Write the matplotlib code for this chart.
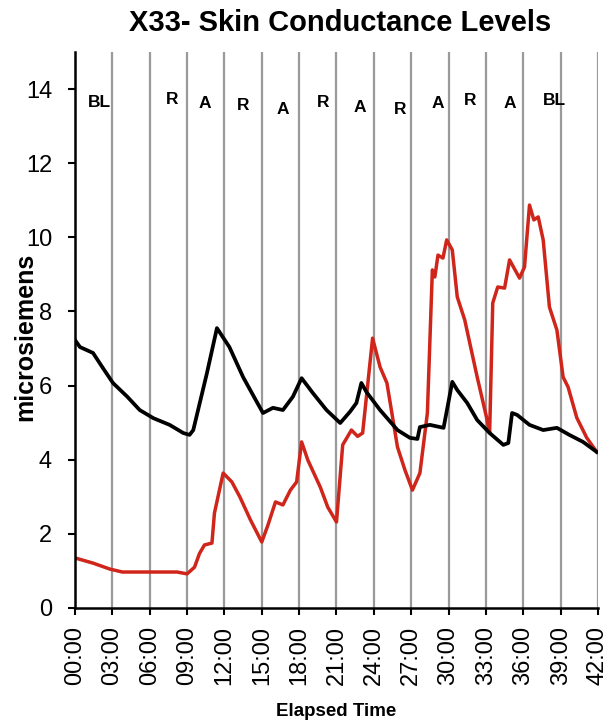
import matplotlib
matplotlib.use("Agg")
import matplotlib.pyplot as plt

plt.rcParams['font.family'] = ['Liberation Sans', 'DejaVu Sans']

# elapsed minutes / microsiemens
black_t = [0.0, 0.4, 1.45, 2.25, 3.05, 4.2, 5.2, 6.3, 7.6, 8.7, 9.2, 9.5, 10.6, 11.4,
           12.4, 13.5, 14.6, 15.1, 15.9, 16.7, 17.5, 18.2, 19.1, 20.2, 21.3, 22.1, 22.6,
           23.0, 23.4, 24.5, 25.9, 26.9, 27.5, 27.7, 28.5, 29.6, 30.3, 30.7, 31.5, 32.3,
           33.3, 34.4, 34.8, 35.1, 35.5, 36.5, 37.6, 38.7, 39.7, 40.8, 41.9]
black_v = [7.23, 7.04, 6.88, 6.47, 6.07, 5.7, 5.34, 5.12, 4.94, 4.72, 4.67, 4.8, 6.34, 7.55,
           7.04, 6.23, 5.56, 5.26, 5.4, 5.34, 5.7, 6.2, 5.8, 5.34, 4.99, 5.3, 5.53,
           6.07, 5.83, 5.34, 4.8, 4.59, 4.56, 4.88, 4.94, 4.86, 6.1, 5.88, 5.53, 5.07,
           4.72, 4.4, 4.45, 5.26, 5.21, 4.94, 4.8, 4.86, 4.67, 4.48, 4.21]

red_t = [0.0, 1.45, 2.8, 3.8, 6.8, 8.2, 9.0, 9.6, 10.0, 10.4, 11.0, 11.2, 11.9, 12.6,
         13.25, 14.1, 15.0, 15.5, 16.1, 16.7, 17.3, 17.8, 18.2, 18.7, 19.7, 20.3, 21.0,
         21.5, 22.2, 22.7, 23.1, 23.9, 24.5, 25.05, 25.9, 26.5, 27.1, 27.7, 28.3, 28.7,
         28.9, 29.15, 29.55, 29.85, 30.3, 30.7, 31.3, 32.3, 33.1, 33.3, 33.55, 33.95,
         34.5, 34.9, 35.7, 36.1, 36.5, 36.85, 37.2, 37.6, 38.1, 38.7, 39.2, 39.6, 40.3,
         41.1, 41.9]
red_v = [1.35, 1.21, 1.05, 0.97, 0.97, 0.97, 0.92, 1.1, 1.47, 1.7, 1.75, 2.56, 3.64, 3.4,
         2.99, 2.37, 1.78, 2.24, 2.86, 2.78, 3.18, 3.4, 4.48, 3.99, 3.26, 2.72, 2.32,
         4.4, 4.8, 4.63, 4.72, 7.28, 6.5, 6.07, 4.34, 3.72, 3.18, 3.64, 5.26, 9.12,
         8.93, 9.52, 9.44, 9.93, 9.66, 8.39, 7.77, 6.23, 5.07, 4.72, 8.23, 8.66,
         8.63, 9.39, 8.9, 9.2, 10.87, 10.47, 10.55, 9.93, 8.12, 7.5, 6.23, 5.96, 5.13,
         4.59, 4.21]

phase_labels = ['BL', 'R', 'A', 'R', 'A', 'R', 'A', 'R', 'A', 'R', 'A', 'BL']
phase_t = [2.0, 7.8, 10.4, 13.5, 16.7, 19.9, 22.9, 26.1, 29.1, 31.7, 34.9, 38.5]
phase_y = [13.65, 13.72, 13.6, 13.55, 13.45, 13.65, 13.5, 13.45, 13.62, 13.7, 13.62, 13.7]

tick_min = list(range(0, 43, 3))
tick_labels = [f"{m:02d}:00" for m in tick_min]

fig = plt.figure(figsize=(6.13, 7.23), dpi=100)
ax = fig.add_axes([0.1223, 0.1591, 0.8532, 0.769])

for m in tick_min[1:]:
    ax.axvline(m, color='#9a9a9a', lw=1.6, zorder=1)

ax.plot(black_t, black_v, color='black', lw=2.7, zorder=3)
ax.plot(red_t, red_v, color='#d0251a', lw=2.5, zorder=2)

for lab, t, y in zip(phase_labels, phase_t, phase_y):
    ax.text(t, y, lab, ha='center', va='center', fontsize=12.5, fontweight='bold')

ax.set_xlim(0, 42)
ax.set_ylim(0, 15)
ax.set_yticks(range(0, 15, 2))
ax.set_xticks(tick_min)
ax.set_xticklabels(tick_labels, rotation=90)
ax.tick_params(axis='both', labelsize=17, width=1.5, length=5, direction='out')
ax.tick_params(axis='y', pad=11.5)
ax.tick_params(axis='x', pad=8)

for s in ['top', 'right']:
    ax.spines[s].set_visible(False)
for s in ['left', 'bottom']:
    ax.spines[s].set_linewidth(1.8)

ax.set_ylabel('microsiemens', fontsize=18, fontweight='bold', va='center')
ax.yaxis.set_label_coords(-0.0956, 0.487)
ax.set_xlabel('Elapsed Time', fontsize=13.5, fontweight='bold', va='center')
ax.xaxis.set_label_coords(0.5, -0.187)
fig.text(0.555, 0.968, 'X33- Skin Conductance Levels', fontsize=21, fontweight='bold',
         ha='center', va='center')

fig.savefig('out.png', dpi=100)
